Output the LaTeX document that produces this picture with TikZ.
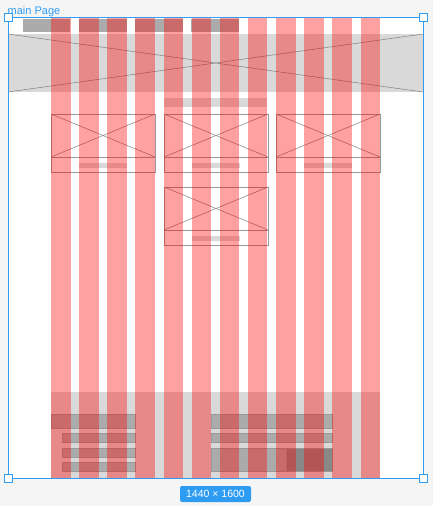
\documentclass[tikz,border=0pt]{standalone}
\usepackage{fontspec}
\setmainfont{Liberation Sans}
\usepackage{tikz}
\usetikzlibrary{
  calc,
  positioning
}
\definecolor{figblue}{HTML}{2E9CF2}
\definecolor{boxgray}{HTML}{D9D9D9}
\definecolor{bargray}{HTML}{ABABAB}
\definecolor{linegray}{HTML}{999999}

\begin{document}
\begin{tikzpicture}[
  x=1pt,
  y=-1pt,
  font=\sffamily,
  column/.style={fill=red, fill opacity=0.37},
  block/.style={fill=boxgray},
  bar/.style={fill=bargray, draw=linegray, line width=0.6pt},
  cardline/.style={draw=linegray, line width=0.6pt},
  cross/.style={draw=gray, line width=0.5pt},
  handle/.style={draw=figblue, fill=white, line width=1pt},
  every node/.style={inner sep=0pt}
]
  \useasboundingbox (0,0) rectangle (433,506);

  % Canvas background and the white page frame.
  \fill[gray!8] (0,0) rectangle (433,506);
  \fill[white] (8,17) rectangle (423,478);

  % Navigation band: logo and menu items.
  \fill[bargray] (23,19) rectangle (70,32);
  \foreach \xx in {79,135,191}
    \fill[bargray] (\xx,19) rectangle ++(48,13);

  % Hero image placeholder.
  \fill[block] (8,34) rectangle (423,92);
  \draw[cross] (8,34) -- (423,92);
  \draw[cross] (8,92) -- (423,34);

  % Section title.
  \fill[block] (164,98) rectangle (267,107);

  % Cards with image placeholders and captions.
  \foreach \cx/\cy in {51/114,164/114,276/114,164/187} {
    \draw[cardline] (\cx,\cy) rectangle ++(104,58);
    \draw[cardline] (\cx,\cy+43) -- ++(104,0);
    \draw[cross] (\cx,\cy) -- ++(104,43);
    \draw[cross] (\cx,\cy+43) -- ++(104,-43);
    \fill[block] (\cx+28,\cy+49) rectangle ++(48,5);
  }

  % Footer block.
  \fill[block] (51,392) rectangle (380,478);
  \draw[bar] (51,414) rectangle (135,428);
  \foreach \yy in {433,448,462}
    \draw[bar] (62,\yy) rectangle ++(73,9);
  \draw[bar] (211,414) rectangle (332,428);
  \draw[bar] (211,433) rectangle (332,442);
  \draw[bar] (211,448) rectangle (332,471);
  \draw[cardline, fill={rgb,255:red,136;green,136;blue,136}]
    (286,448) rectangle (332,471);

  % Layout grid: twelve columns laid over the page.
  \foreach \i in {0,...,11}
    \fill[column] ({51+28.14*\i},17) rectangle ++(19.5,461);

  % Selection frame, corner handles and labels.
  \draw[figblue, line width=0.8pt] (8,17) rectangle (423,478);
  \foreach \hx/\hy in {8/17,423/17,8/478,423/478}
    \draw[handle] (\hx-4,\hy-4) rectangle ++(8,8);

  \node[figblue, font=\fontsize{11}{12}\selectfont, anchor=base west]
    (pagename) at (7.5,14) {main Page};
  \node[fill=figblue, text=white, rounded corners=2pt,
        minimum width=71, minimum height=16,
        font=\fontsize{10.5}{12}\selectfont]
    (pagesize) at (215.5,494) {1440 × 1600};

\end{tikzpicture}
\end{document}
